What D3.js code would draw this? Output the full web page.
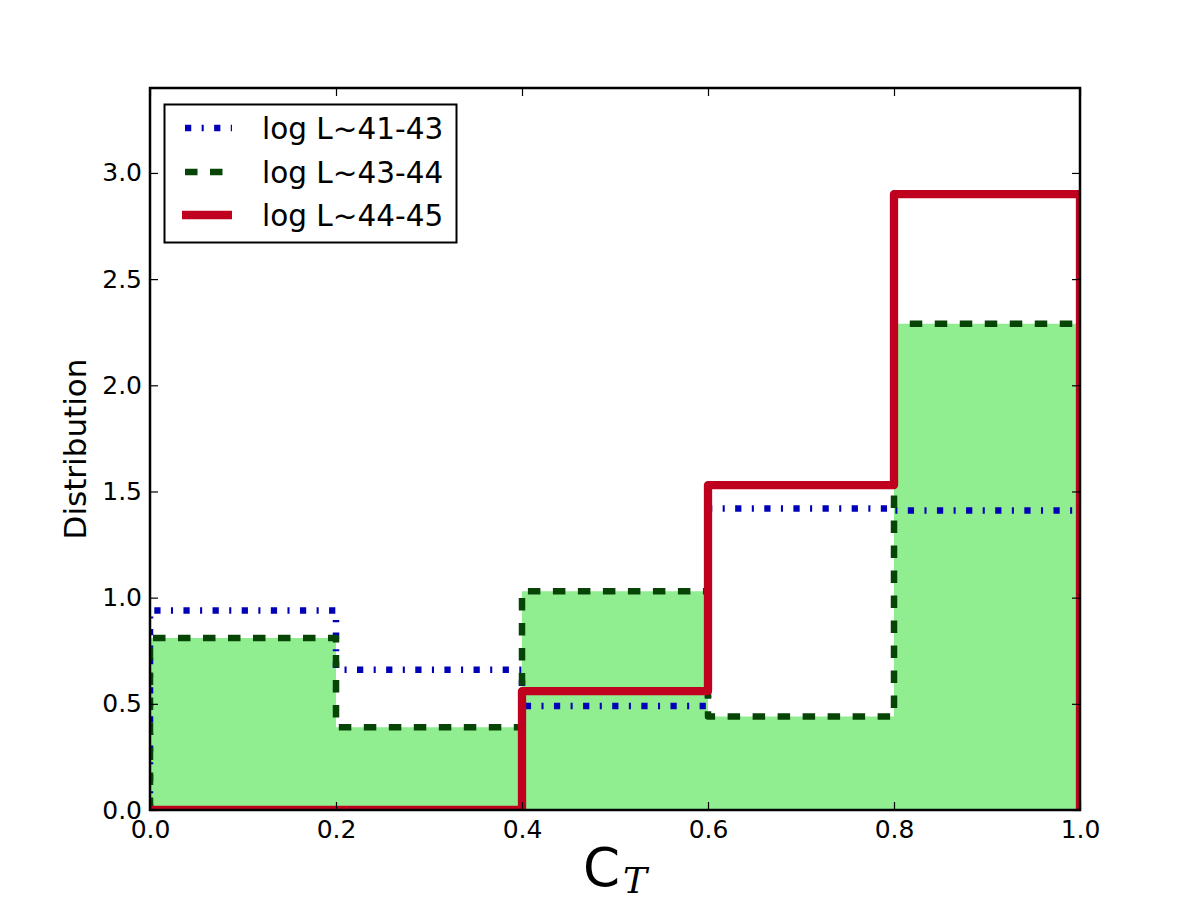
<!DOCTYPE html>
<html>
<head>
<meta charset="utf-8">
<script src="https://cdn.jsdelivr.net/npm/d3@7"></script>
<style>
  body { margin: 0; background: #fff; }
  svg { display: block; font-family: "DejaVu Sans", sans-serif; }
</style>
</head>
<body>
<svg width="1200" height="900"></svg>
<script>
// bin edges of the histogram (C_T)
const binEdges = [0.0, 0.2, 0.4, 0.6, 0.8, 1.0];

// normalised distribution per luminosity bin
const lowL = [0.94, 0.66, 0.49, 1.42, 1.41];
const midL = [0.81, 0.39, 1.03, 0.44, 2.29];
const highL = [0.0, 0.0, 0.56, 1.53, 2.90];

const seriesLabels = ["log L~41-43", "log L~43-44", "log L~44-45"];
const xTicks = [0.0, 0.2, 0.4, 0.6, 0.8, 1.0];
const yTicks = [0.0, 0.5, 1.0, 1.5, 2.0, 2.5, 3.0];

const plotLeft = 150, plotTop = 88, plotRight = 1080, plotBottom = 810;

const x = d3.scaleLinear().domain([0, 1]).range([plotLeft, plotRight]);
const y = d3.scaleLinear().domain([0, 3.4]).range([plotBottom, plotTop]);

const svg = d3.select("svg");

svg.append("clipPath")
    .attr("id", "plot-clip")
    .append("rect")
    .attr("x", plotLeft).attr("y", plotTop)
    .attr("width", plotRight - plotLeft).attr("height", plotBottom - plotTop);

// step outline: up from zero, across each bin, back down at the end
function stepPoints(values) {
    const pts = [[binEdges[0], 0]];
    values.forEach((v, i) => {
        pts.push([binEdges[i], v]);
        pts.push([binEdges[i + 1], v]);
    });
    pts.push([binEdges[binEdges.length - 1], 0]);
    return pts;
}

const line = d3.line()
    .x(d => x(d[0]))
    .y(d => y(d[1]));

const plot = svg.append("g").attr("clip-path", "url(#plot-clip)");

// filled histogram for the middle luminosity bin
plot.append("path")
    .attr("d", line(stepPoints(midL)) + "Z")
    .attr("fill", "#90ee90")
    .attr("stroke", "none");

const styles = [
    { values: lowL, color: "#0000b8", width: 6.5, dash: "6.25,10.4,2.08,10.4" },
    { values: midL, color: "#064506", width: 6.5, dash: "12.5,12.5" },
    { values: highL, color: "#c0001f", width: 8.3, dash: null },
];

styles.forEach(s => {
    plot.append("path")
        .attr("d", line(stepPoints(s.values)))
        .attr("fill", "none")
        .attr("stroke", s.color)
        .attr("stroke-width", s.width)
        .attr("stroke-linejoin", "round")
        .attr("stroke-linecap", "butt")
        .attr("stroke-dasharray", s.dash);
});

// axes, ticks pointing inward on all four sides
const fmt = d3.format(".1f");

svg.append("g")
    .attr("transform", `translate(0,${plotBottom})`)
    .call(d3.axisBottom(x).tickValues(xTicks).tickFormat(fmt).tickSizeInner(-8).tickSizeOuter(0).tickPadding(10));

svg.append("g")
    .attr("transform", `translate(0,${plotTop})`)
    .call(d3.axisTop(x).tickValues(xTicks).tickFormat("").tickSizeInner(-8).tickSizeOuter(0));

svg.append("g")
    .attr("transform", `translate(${plotLeft},0)`)
    .call(d3.axisLeft(y).tickValues(yTicks).tickFormat(fmt).tickSizeInner(-8).tickSizeOuter(0).tickPadding(8));

svg.append("g")
    .attr("transform", `translate(${plotRight},0)`)
    .call(d3.axisRight(y).tickValues(yTicks).tickFormat("").tickSizeInner(-8).tickSizeOuter(0));

svg.selectAll(".domain").remove();
svg.selectAll(".tick line").attr("stroke", "#000").attr("stroke-width", 1.2);
svg.selectAll(".tick text")
    .attr("font-family", "DejaVu Sans")
    .attr("font-size", 25)
    .attr("fill", "#000");

svg.append("rect")
    .attr("x", plotLeft).attr("y", plotTop)
    .attr("width", plotRight - plotLeft).attr("height", plotBottom - plotTop)
    .attr("fill", "none")
    .attr("stroke", "#000")
    .attr("stroke-width", 2.5);

// axis labels
svg.append("text")
    .attr("transform", `translate(86,${(plotTop + plotBottom) / 2}) rotate(-90)`)
    .attr("text-anchor", "middle")
    .attr("font-size", 31)
    .text("Distribution");

const xl = svg.append("text")
    .attr("x", (plotLeft + plotRight) / 2)
    .attr("y", 886)
    .attr("text-anchor", "middle")
    .attr("font-size", 53);
xl.append("tspan").text("C");
xl.append("tspan")
    .attr("font-family", "DejaVu Serif, serif")
    .attr("font-style", "italic")
    .attr("font-size", 36)
    .attr("dx", 3)
    .attr("dy", 7)
    .text("T");

// legend
const legend = svg.append("g");
legend.append("rect")
    .attr("x", 164.5).attr("y", 104.5)
    .attr("width", 292).attr("height", 138)
    .attr("fill", "#fff")
    .attr("stroke", "#000")
    .attr("stroke-width", 2);

const rowY = [128, 172, 215];
styles.forEach((s, i) => {
    legend.append("line")
        .attr("x1", 182).attr("x2", 232)
        .attr("y1", rowY[i]).attr("y2", rowY[i])
        .attr("stroke", s.color)
        .attr("stroke-width", s.width)
        .attr("stroke-dasharray", s.dash)
        .attr("stroke-dashoffset", s.dash ? -3 : 0);
    legend.append("text")
        .attr("x", 262)
        .attr("y", rowY[i])
        .attr("dy", "0.36em")
        .attr("font-size", 29.5)
        .text(seriesLabels[i]);
});
</script>
</body>
</html>
